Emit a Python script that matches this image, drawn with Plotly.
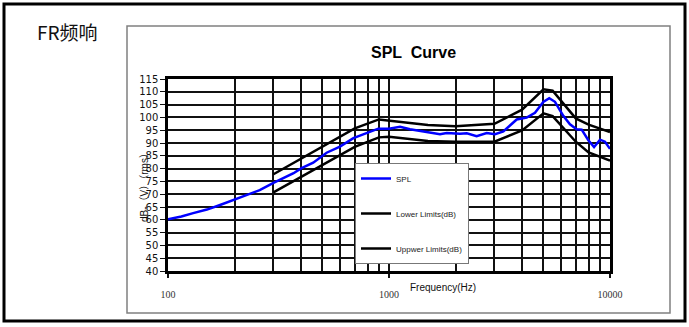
import plotly.graph_objects as go

# ---------------- data ----------------
freq_spl = [100, 115, 130, 150, 172, 200, 230, 260, 300, 344, 370, 400, 454, 522, 600, 690, 793, 894,
            1000, 1122, 1245, 1386, 1533, 1701, 1824, 2094, 2250, 2492, 2767, 3019, 3292, 3527, 3783,
            4198, 4577, 4990, 5310, 5636, 6147, 6590, 7065, 7447, 7980, 8470, 9015, 9490, 10000]
spl_db = [60.2, 61.3, 62.6, 64.0, 65.8, 67.9, 69.8, 71.6, 74.4, 77.0, 78.2, 80.1, 82.3, 86.2, 88.6, 91.9, 93.8, 95.6,
          95.6, 96.3, 95.4, 94.8, 94.1, 93.4, 93.9, 93.6, 93.8, 92.7, 93.9, 93.4, 94.5, 97.0, 99.2,
          99.9, 101.8, 106.0, 107.5, 106.1, 100.6, 97.3, 95.4, 95.2, 91.1, 88.4, 91.3, 90.5, 87.7]

freq_limits = [300, 700, 900, 1000, 1500, 2000, 3000, 4000, 5000, 5500, 7000, 8000, 10000]
lower_db = [70.7, 88.5, 92.2, 92.4, 90.8, 90.5, 90.5, 94.9, 101.6, 100.5, 90.5, 86.3, 83.1]
upper_db = [77.8, 95.7, 99.2, 98.7, 97.0, 96.5, 97.5, 103.0, 111.0, 110.4, 99.6, 97.2, 94.3]

x_major = [100, 1000, 10000]
x_major_text = ["100", "1000", "10000"]
x_minor = [200, 300, 400, 500, 600, 700, 800, 900, 2000, 3000, 4000, 5000, 6000, 7000, 8000, 9000]

# ---------------- geometry helpers ----------------
W, H = 689, 327
L, R, T, B = 168, 610, 79, 271


def px2x(px):
    return (px - L) / (R - L)


def py2y(py):
    return (B - py) / (B - T)


fig = go.Figure()
fig.add_trace(go.Scatter(x=freq_spl, y=spl_db, mode="lines", name="SPL", legendgroup="a",
                         line=dict(color="#0000ff", width=2.5)))
fig.add_trace(go.Scatter(x=freq_limits, y=lower_db, mode="lines", name="Lower Limits(dB)", legendgroup="b",
                         line=dict(color="#000000", width=2.5)))
fig.add_trace(go.Scatter(x=freq_limits, y=upper_db, mode="lines", name="Uppwer Limits(dB)", legendgroup="c",
                         line=dict(color="#000000", width=2.5)))

fig.update_layout(
    width=W, height=H,
    margin=dict(l=L, r=W - R, t=T, b=H - B, pad=0),
    paper_bgcolor="white", plot_bgcolor="white",
    showlegend=True,
    legend=dict(x=px2x(355), y=py2y(163), xanchor="left", yanchor="top",
                bgcolor="white", bordercolor="#777777", borderwidth=1,
                font=dict(family="Liberation Sans", size=8, color="#222"),
                tracegroupgap=16, itemwidth=30),
    xaxis=dict(type="log", range=[2, 4], tickmode="array", tickvals=x_major, ticktext=x_major_text,
               showgrid=True, gridcolor="#111", gridwidth=1.6,
               ticks="outside", ticklen=4, tickcolor="#111", tickwidth=1.5,
               ticklabelstandoff=8,
               tickfont=dict(family="Liberation Serif", size=10, color="#333"),
               showline=True, linecolor="#000", linewidth=2.5, mirror=True, zeroline=False,
               minor=dict(tickmode="array", tickvals=x_minor, showgrid=True, gridcolor="#111",
                          gridwidth=1.6, ticks="")),
    yaxis=dict(range=[40, 115], tickmode="linear", tick0=40, dtick=5,
               showgrid=True, gridcolor="#111", gridwidth=1.6,
               ticks="outside", ticklen=5, tickcolor="#111", tickwidth=1.2,
               tickfont=dict(family="DejaVu Sans", size=10, color="#111"),
               showline=True, linecolor="#000", linewidth=2.5, mirror=True, zeroline=False),
    shapes=[
        dict(type="rect", xref="paper", yref="paper", x0=px2x(4), x1=px2x(685), y0=py2y(321), y1=py2y(4),
             line=dict(color="#000", width=3), layer="below"),
        dict(type="rect", xref="paper", yref="paper", x0=px2x(127), x1=px2x(670), y0=py2y(313), y1=py2y(26),
             line=dict(color="#808080", width=1.5), layer="below"),
    ],
    annotations=[
        dict(text="FR频响", xref="paper", yref="paper", x=px2x(35), y=py2y(32), xanchor="left", yanchor="middle",
             showarrow=False, font=dict(family="Noto Sans CJK SC", size=19, color="#111")),
        dict(text="<b>SPL  Curve</b>", xref="paper", yref="paper", x=px2x(413), y=py2y(52),
             xanchor="center", yanchor="middle", showarrow=False,
             font=dict(family="Liberation Sans", size=16, color="#000")),
        dict(text="Frequency(Hz)", xref="paper", yref="paper", x=px2x(408), y=py2y(287),
             xanchor="left", yanchor="middle", showarrow=False,
             font=dict(family="Liberation Sans", size=10, color="#111")),
        dict(text="dB-（V）（rms）", xref="paper", yref="paper", x=px2x(144), y=py2y(185),
             xanchor="center", yanchor="middle", textangle=-90, showarrow=False,
             font=dict(family="Liberation Sans, Noto Sans CJK SC", size=10, color="#111")),
    ],
)

fig.write_html("out.html")
